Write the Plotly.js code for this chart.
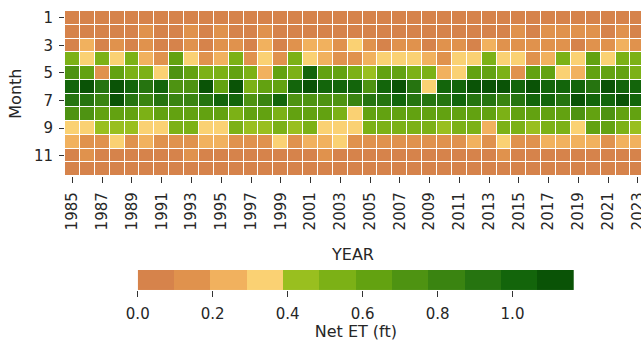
<!DOCTYPE html>
<html>
<head>
<meta charset="utf-8">
<script src="https://cdn.plot.ly/plotly-3.0.1.min.js"></script>
<style>html,body{margin:0;padding:0;background:#fff;}#chart{width:641px;height:341px;}</style>
</head>
<body>
<div id="chart"></div>
<script>
// Years (columns) and months (rows)
const years = [1985,1986,1987,1988,1989,1990,1991,1992,1993,1994,
               1995,1996,1997,1998,1999,2000,2001,2002,2003,2004,
               2005,2006,2007,2008,2009,2010,2011,2012,2013,2014,
               2015,2016,2017,2018,2019,2020,2021,2022,2023];
const months = [1,2,3,4,5,6,7,8,9,10,11,12];

// Net ET (ft), one array per month, values for 1985..2023
const jan = [0.05,0.06,0.05,0.04,0.06,0.05,0.05,0.06,0.05,0.04,
             0.06,0.05,0.05,0.06,0.05,0.04,0.05,0.06,0.05,0.05,
             0.04,0.06,0.05,0.05,0.06,0.05,0.04,0.05,0.06,0.05,
             0.05,0.04,0.06,0.05,0.05,0.06,0.05,0.04,0.05];
const feb = [0.06,0.07,0.06,0.05,0.07,0.12,0.06,0.07,0.13,0.06,
             0.12,0.07,0.06,0.12,0.07,0.06,0.07,0.08,0.06,0.07,
             0.06,0.07,0.06,0.07,0.06,0.07,0.08,0.06,0.07,0.08,
             0.12,0.07,0.13,0.12,0.12,0.13,0.08,0.12,0.08];
const mar = [0.08,0.24,0.09,0.13,0.08,0.14,0.09,0.08,0.15,0.09,
             0.14,0.13,0.09,0.22,0.08,0.14,0.25,0.23,0.15,0.33,
             0.14,0.09,0.15,0.13,0.09,0.14,0.16,0.08,0.24,0.15,
             0.14,0.15,0.16,0.14,0.08,0.16,0.15,0.22,0.16];
const apr = [0.55,0.34,0.56,0.33,0.57,0.25,0.18,0.60,0.32,0.17,
             0.26,0.54,0.16,0.34,0.17,0.52,0.33,0.27,0.18,0.17,
             0.26,0.32,0.35,0.33,0.27,0.18,0.31,0.33,0.55,0.35,
             0.32,0.18,0.26,0.54,0.34,0.60,0.32,0.55,0.53];
const may = [0.72,0.65,0.18,0.64,0.55,0.54,0.33,0.74,0.63,0.53,
             0.52,0.64,0.54,0.25,0.63,0.55,1.00,0.65,0.66,0.53,
             0.45,0.64,0.65,0.55,0.54,0.27,0.34,0.64,0.66,0.56,
             0.19,0.63,0.65,0.34,0.24,0.64,0.66,0.63,0.56];
const jun = [1.02,1.10,0.93,1.12,1.01,0.92,1.00,0.74,0.75,1.11,
             0.66,1.10,0.56,0.64,0.66,1.02,1.10,1.03,1.01,1.00,
             0.72,1.03,1.09,0.94,0.35,1.02,1.00,1.10,1.11,1.09,
             1.03,1.10,1.02,1.01,1.03,0.95,1.12,1.04,1.02];
const jul = [0.93,0.92,0.84,1.09,0.94,0.83,0.92,0.82,0.85,0.93,
             1.00,1.01,0.74,0.83,1.00,0.75,0.76,0.74,0.75,0.84,
             0.92,0.93,1.01,0.94,0.91,0.93,1.00,0.92,0.94,0.83,
             0.93,1.02,1.00,0.93,1.09,1.01,1.02,1.10,1.01];
const aug = [0.72,0.73,0.65,0.64,0.63,0.56,0.64,0.65,0.63,0.64,
             0.62,0.57,0.63,0.64,0.56,0.65,0.63,0.64,0.57,0.35,
             0.64,0.65,0.63,0.64,0.62,0.63,0.65,0.64,0.63,0.57,
             0.64,0.65,0.63,0.64,0.72,0.63,0.71,0.64,0.62];
const sep = [0.34,0.33,0.45,0.44,0.46,0.32,0.31,0.52,0.53,0.34,
             0.35,0.54,0.44,0.45,0.52,0.43,0.55,0.33,0.34,0.32,
             0.53,0.54,0.55,0.53,0.52,0.45,0.54,0.53,0.26,0.55,
             0.54,0.44,0.55,0.53,0.33,0.60,0.61,0.54,0.45];
const oct = [0.24,0.16,0.15,0.33,0.17,0.25,0.16,0.15,0.17,0.24,
             0.26,0.16,0.15,0.17,0.32,0.16,0.25,0.24,0.31,0.16,
             0.17,0.15,0.16,0.17,0.15,0.16,0.17,0.24,0.12,0.33,
             0.16,0.15,0.25,0.24,0.23,0.26,0.13,0.24,0.25];
const nov = [0.07,0.12,0.07,0.08,0.06,0.08,0.07,0.08,0.12,0.07,
             0.08,0.07,0.06,0.08,0.07,0.08,0.07,0.12,0.08,0.07,
             0.06,0.08,0.07,0.08,0.07,0.06,0.08,0.07,0.08,0.12,
             0.07,0.08,0.07,0.06,0.08,0.07,0.08,0.07,0.08];
const dec = [0.05,0.05,0.04,0.05,0.05,0.04,0.05,0.05,0.05,0.04,
             0.05,0.05,0.04,0.05,0.05,0.05,0.04,0.05,0.05,0.05,
             0.04,0.05,0.05,0.05,0.04,0.05,0.05,0.05,0.04,0.05,
             0.05,0.05,0.04,0.05,0.05,0.05,0.04,0.05,0.05];

// Tick labels
const yearTicks = [1985,1987,1989,1991,1993,1995,1997,1999,2001,2003,
                   2005,2007,2009,2011,2013,2015,2017,2019,2021,2023];
const monthTicks = [1,3,5,7,9,11];
const cbTickVals = [0.0,0.2,0.4,0.6,0.8,1.0];
const cbTickText = ['0.0','0.2','0.4','0.6','0.8','1.0'];

// Discrete colour bins (12 equal bins from zMin to zMax)
const binColors = ['#d6834b','#e0924d','#f1b15e','#fad173','#99bf1f','#7cb116',
                   '#63a211','#4e9312','#3a8411','#267410','#13650b','#0a5306'];
const zMin = 0, zMax = 1.164;
const nBins = binColors.length;
const colorscale = [];
binColors.forEach((c, i) => {
  colorscale.push([i / nBins, c]);
  colorscale.push([(i + 1) / nBins, c]);
});
// colour-bar strip: bin edges and bin centres derived from the scale
const binEdges = Array.from({length: nBins + 1}, (_, i) => zMin + (zMax - zMin) * i / nBins);
const binMids = binEdges.slice(0, -1).map((e, i) => (e + binEdges[i + 1]) / 2);

const z = [jan, feb, mar, apr, may, jun, jul, aug, sep, oct, nov, dec];
const tickFont = {family: 'DejaVu Sans, sans-serif', size: 15, color: '#262626'};
const titleFont = {family: 'DejaVu Sans, sans-serif', size: 16, color: '#262626'};

const heat = {
  type: 'heatmap',
  x: years, y: months, z: z,
  zmin: zMin, zmax: zMax,
  colorscale: colorscale,
  xgap: 1, ygap: 1,
  showscale: false,
  xaxis: 'x', yaxis: 'y'
};

const bar = {
  type: 'heatmap',
  x: binEdges, y: [0, 1], z: [binMids],
  zmin: zMin, zmax: zMax,
  colorscale: colorscale,
  showscale: false,
  xaxis: 'x2', yaxis: 'y2'
};

const layout = {
  width: 641, height: 341,
  margin: {l: 65.3, r: 0, t: 11.4, b: 51, pad: 0},
  paper_bgcolor: '#fff', plot_bgcolor: '#fff',
  font: tickFont,
  showlegend: false,
  xaxis: {
    anchor: 'y',
    range: [1984.5, 2023.21],
    tickvals: yearTicks, ticktext: yearTicks.map(String),
    tickangle: -90,
    ticks: 'outside', ticklen: 6, tickwidth: 1, tickcolor: '#333',
    ticklabelstandoff: 3,
    ticklabeloverflow: 'allow',
    showgrid: false, zeroline: false, showline: false,
    tickfont: tickFont,
    title: {text: 'YEAR', font: titleFont, standoff: 19}
  },
  yaxis: {
    anchor: 'x',
    domain: [0.4078, 1],
    range: [12.5, 0.5],
    tickvals: monthTicks, ticktext: monthTicks.map(String),
    ticks: 'outside', ticklen: 5, tickwidth: 1, tickcolor: '#333',
    ticklabelstandoff: 3,
    showgrid: false, zeroline: false, showline: false,
    tickfont: tickFont,
    title: {text: 'Month', font: titleFont, standoff: 8}
  },
  xaxis2: {
    anchor: 'y2',
    domain: [0.1263, 0.8836],
    range: [zMin, zMax],
    tickvals: cbTickVals, ticktext: cbTickText,
    ticks: 'outside', ticklen: 6, tickwidth: 1, tickcolor: '#333',
    ticklabelstandoff: 4,
    showgrid: false, zeroline: false, showline: false,
    tickfont: tickFont,
    title: {text: 'Net ET (ft)', font: titleFont, standoff: 3}
  },
  yaxis2: {
    anchor: 'x2',
    domain: [0, 0.0718],
    range: [0, 1],
    showticklabels: false, ticks: '',
    showgrid: false, zeroline: false, showline: false
  }
};

Plotly.newPlot('chart', [heat, bar], layout, {displayModeBar: false, staticPlot: true});
</script>
</body>
</html>
